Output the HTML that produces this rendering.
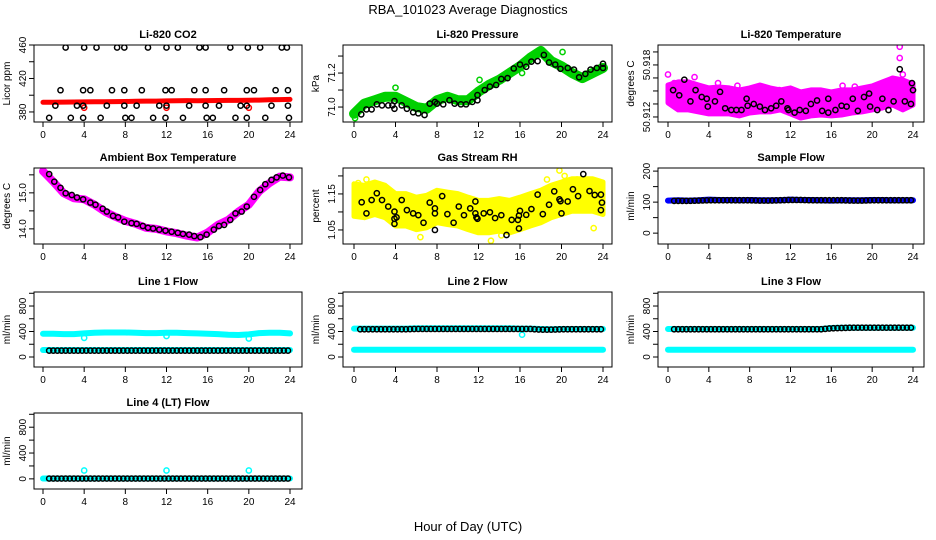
<!DOCTYPE html>
<html><head><meta charset="utf-8"><style>
html,body{margin:0;padding:0;background:#fff;}
svg{display:block;font-family:"Liberation Sans",Arial,sans-serif;}
</style></head><body>
<svg id="c" width="936" height="540" viewBox="0 0 936 540" xmlns="http://www.w3.org/2000/svg">
<text x="468" y="14" text-anchor="middle" font-size="13">RBA_101023  Average Diagnostics</text>
<text x="468" y="531" text-anchor="middle" font-size="13">Hour of Day (UTC)</text>
</svg>
<script>
// ---- shared categories ----
const hours = [0,1,2,3,4,5,6,7,8,9,10,11,12,13,14,15,16,17,18,19,20,21,22,23,24];
const xTicks = [0,4,8,12,16,20,24];
const blackHours = [0.6,1.0,1.4,1.8,2.2,2.6,3.0,3.4,3.8,4.2,4.6,5.0,5.4,5.8,6.2,6.6,7.0,7.4,7.8,8.2,8.6,9.0,9.4,9.8,10.2,10.6,11.0,11.4,11.8,12.2,12.6,13.0,13.4,13.8,14.2,14.6,15.0,15.4,15.8,16.2,16.6,17.0,17.4,17.8,18.2,18.6,19.0,19.4,19.8,20.2,20.6,21.0,21.4,21.8,22.2,22.6,23.0,23.4,23.8];

// CO2
const co2Red = [391.5,391.6,391.8,391.9,392.0,392.2,392.2,392.4,392.5,392.8,393.0,393.0,393.2,393.5,393.6,393.5,393.6,393.7,393.8,393.8,394.0,394.2,394.5,394.8,395.0];
const co2RedOutH = [4,12,20];
const co2RedOutV = [385,385,385];
const co2BlackH = [2.2,4.0,5.2,7.2,7.9,10.2,12.0,13.1,15.2,15.8,18.2,19.9,21.1,23.2,23.7, 1.7,3.9,4.6,6.7,7.9,9.6,11.9,12.5,14.7,15.8,17.6,19.8,20.5,22.6,23.8, 1.2,3.3,3.9,6.2,7.9,9.1,11.3,12.0,14.2,15.8,17.1,19.2,19.8,22.2,23.8, 0.6,2.7,3.9,5.6,8.0,8.6,10.7,11.9,13.6,15.9,16.5,18.7,19.8,21.6,23.9];
const co2BlackV = [457,457,457,457,457,457,457,457,457,457,457,457,457,457,457, 406,406,406,406,406,406,406,406,406,406,406,406,406,406,406, 387.5,387.5,387.5,387.5,387.5,387.5,387.5,387.5,387.5,387.5,387.5,387.5,387.5,387.5,387.5, 373,373,373,373,373,373,373,373,373,373,373,373,373,373,373];

// Pressure
const presGreen = [70.96,71.02,71.04,71.06,71.06,71.03,71.0,70.99,71.04,71.06,71.04,71.04,71.09,71.13,71.16,71.2,71.24,71.29,71.33,71.27,71.24,71.2,71.17,71.2,71.23];
const presGreenOutH = [0.1,4.0,12.1,16.2,20.1];
const presGreenOutV = [70.935,71.114,71.16,71.2,71.324];
const presBlackH = [0.7,1.2,1.7,2.2,2.7,3.3,3.7,3.9,3.9,4.6,5.1,5.7,6.2,6.8,7.3,7.8,8.0,8.6,9.2,9.7,10.3,10.8,11.4,11.9,11.9,12.6,13.1,13.7,14.2,14.8,15.4,16.0,16.6,17.1,17.7,18.3,18.8,19.4,19.9,20.6,21.2,21.7,22.3,22.8,23.4,24.0,24.0];
const presBlackV = [70.957,70.986,70.986,71.016,71.01,71.01,71.01,71.035,70.99,71.01,70.99,70.969,70.963,70.953,71.02,71.03,71.02,71.016,71.04,71.02,71.016,71.016,71.03,71.04,71.07,71.1,71.12,71.13,71.165,71.17,71.227,71.25,71.237,71.267,71.27,71.306,71.262,71.25,71.225,71.23,71.22,71.175,71.195,71.22,71.23,71.23,71.255];

// Li-820 Temperature
const tempUpper = [50.91569,50.91604,50.91604,50.91569,50.91535,50.91546,50.91535,50.91512,50.91535,50.91569,50.91535,50.91512,50.91535,50.91488,50.91512,50.91512,50.91488,50.91512,50.91512,50.91535,50.91558,50.91604,50.9165,50.91627,50.91581];
const tempLower = [50.91362,50.91281,50.91281,50.91258,50.91235,50.91235,50.91235,50.91212,50.91246,50.91258,50.91258,50.91281,50.91235,50.91188,50.91212,50.91223,50.91212,50.91223,50.91246,50.91258,50.91281,50.91304,50.91338,50.91281,50.91338];
const tempMagOutH = [0.0,0.6,2.6,4.9,6.8,7.7,10.4,10.9,17.1,18.3,22.7,22.7,23.0];
const tempMagOutV = [50.9169,50.9159,50.9166,50.9159,50.9156,50.9151,50.9151,50.9151,50.9156,50.9155,50.9201,50.9188,50.9169];
const tempBlackH = [0.5,1.1,1.6,2.2,2.7,3.3,3.8,3.9,4.6,5.1,5.6,6.2,6.7,7.2,7.7,7.8,8.4,9.0,9.5,10.1,10.6,11.1,11.7,11.8,12.4,12.9,13.5,14.0,14.6,15.1,15.7,15.7,16.4,17.0,17.5,18.1,18.6,19.2,19.7,19.8,20.5,21.0,21.6,22.1,22.7,23.2,23.8,23.9,24.0];
const tempBlackV = [50.9151,50.9145,50.9163,50.9138,50.9151,50.9143,50.9141,50.9132,50.9138,50.9149,50.913,50.9128,50.9128,50.9128,50.9141,50.9133,50.9135,50.9132,50.9128,50.913,50.9133,50.9138,50.913,50.9128,50.9125,50.9128,50.9127,50.9135,50.9139,50.9127,50.9125,50.9141,50.9128,50.9133,50.9132,50.9141,50.9127,50.9143,50.9147,50.9132,50.9128,50.9141,50.9128,50.9138,50.9175,50.9138,50.9135,50.9159,50.9151];

// Ambient box temperature
const ambMag = [15.6,15.31,14.99,14.85,14.82,14.67,14.48,14.34,14.22,14.14,14.03,14.0,13.93,13.88,13.81,13.76,13.9,14.11,14.25,14.48,14.67,15.04,15.27,15.45,15.43];
const ambBlackH = [0.6,1.1,1.7,2.2,2.8,3.3,3.9,4.6,5.1,5.8,6.2,6.8,7.3,7.9,8.6,9.1,9.7,10.2,10.7,11.3,11.9,12.5,13.1,13.6,14.2,14.7,15.3,15.9,16.6,17.1,17.6,18.2,18.7,19.3,19.8,20.5,21.1,21.6,22.2,22.7,23.3,23.9];
const ambBlackV = [15.52,15.31,15.14,14.99,14.94,14.87,14.82,14.73,14.67,14.56,14.48,14.36,14.32,14.2,14.16,14.14,14.08,14.03,14.01,13.98,13.95,13.92,13.89,13.86,13.84,13.8,13.77,13.84,13.98,14.08,14.11,14.25,14.43,14.48,14.62,14.89,15.08,15.24,15.36,15.43,15.48,15.43];

// Gas stream RH
const rhUpper = [1.178,1.174,1.183,1.174,1.151,1.151,1.141,1.146,1.16,1.155,1.151,1.141,1.132,1.132,1.137,1.132,1.141,1.151,1.16,1.174,1.183,1.192,1.192,1.192,1.183];
const rhLower = [1.088,1.084,1.093,1.084,1.061,1.061,1.051,1.056,1.07,1.065,1.061,1.051,1.042,1.042,1.047,1.042,1.051,1.061,1.07,1.084,1.093,1.102,1.102,1.102,1.093];
const rhYelOutH = [0.4,1.2,2.4,6.4,11.0,13.2,14.2,18.6,19.8,20.3,21.5,23.1];
const rhYelOutV = [1.18,1.19,1.17,1.03,1.06,1.02,1.035,1.19,1.215,1.2,1.19,1.055];
const rhBlackH = [0.74,1.2,1.7,2.2,2.7,3.3,3.9,3.9,3.9,4.1,4.6,5.1,5.7,6.2,6.7,7.3,7.8,7.8,7.8,8.5,9.0,9.6,10.1,10.6,11.2,11.7,11.7,11.8,11.9,12.5,13.1,13.6,14.2,14.7,15.2,15.8,15.9,15.9,16.0,16.6,17.1,17.7,18.2,18.8,19.3,19.8,19.9,20.0,20.6,21.1,21.6,22.1,22.7,23.2,23.8,23.9,23.8];
const rhBlackV = [1.127,1.096,1.133,1.152,1.133,1.115,1.101,1.081,1.067,1.085,1.133,1.105,1.096,1.091,1.07,1.126,1.11,1.096,1.05,1.144,1.094,1.07,1.115,1.091,1.11,1.129,1.096,1.085,1.081,1.096,1.099,1.083,1.091,1.036,1.078,1.078,1.09,1.054,1.103,1.092,1.108,1.148,1.094,1.12,1.157,1.135,1.13,1.096,1.129,1.163,1.144,1.205,1.158,1.147,1.148,1.126,1.105];

// Sample flow
const sampleBlue = [105,106,105,106,108,107,107,106,107,106,106,106,108,107,107,106,105,106,106,106,107,107,106,106,106];
const sampleBlack = [104,104,104,105,106,106,106,106,106,105,105,106,107,107,106,106,106,106,105,105,106,106,106,106,106];

// Line flows
const line1CyanHigh = [365,365,360,360,370,380,385,385,385,380,375,375,380,380,375,370,365,360,350,345,355,375,380,380,370];
const line1CyanLow = [110,110,110,110,110,110,110,110,110,110,110,110,110,110,110,110,110,110,110,110,110,110,110,110,110];
const line1Black = [100,100,100,100,100,100,100,100,100,100,100,100,100,100,100,100,100,100,100,100,100,100,100,100,100];
const line1OutH = [4,12,20];
const line1OutV = [300,330,290];

const line2CyanHigh = [445,445,445,445,445,445,450,450,450,450,450,450,450,450,450,450,445,445,440,435,440,440,440,440,440];
const line2CyanLow = [115,115,115,115,115,115,115,115,115,115,115,115,115,115,115,115,115,115,115,115,115,115,115,115,115];
const line2Black = [435,435,435,435,435,435,440,440,440,440,440,440,440,440,440,440,440,440,430,430,435,435,435,435,435];
const line2OutH = [16.2];
const line2OutV = [350];

const line3CyanHigh = [440,440,440,440,440,440,440,440,440,440,440,440,440,440,440,440,455,460,460,460,460,460,460,460,460];
const line3CyanLow = [115,115,115,115,115,115,115,115,115,115,115,115,115,115,115,115,115,115,115,115,115,115,115,115,115];
const line3Black = [435,435,435,435,435,435,435,435,435,435,435,435,435,435,435,435,450,455,460,460,460,460,460,460,460];

const line4Cyan = [5,5,5,5,5,5,5,5,5,5,5,5,5,5,5,5,5,5,5,5,5,5,5,5,5];
const line4Black = [5,5,5,5,5,5,5,5,5,5,5,5,5,5,5,5,5,5,5,5,5,5,5,5,5];
const line4OutH = [4,12,20];
const line4OutV = [130,130,130];

const flowTicks = [0,200,400,600,800,1000];
const flowLabels = [0,400,800];

// ---- drawing ----
const NS = 'http://www.w3.org/2000/svg';
const svg = document.getElementById('c');
function mk(tag, attrs, parent){
  const e = document.createElementNS(NS, tag);
  for (const k in attrs) e.setAttribute(k, attrs[k]);
  (parent||svg).appendChild(e);
  return e;
}
const cols = [{x0:34,x1:302,t0:43,t24:290},{x0:343,x1:612,t0:354,t24:603},{x0:658,x1:924,t0:668,t24:913}];
const rows = [{y0:45,y1:122},{y0:168,y1:244},{y0:292,y1:367},{y0:413,y1:489}];

function panel(name, title, ylab, col, row, dom, yTicks, yLabels){
  const c = cols[col], r = rows[row];
  const g = mk('g', {});
  
  
  const X = h => c.t0 + (c.t24 - c.t0) * h / 24;
  const Y = v => r.y1 - (v - dom[0]) / (dom[1] - dom[0]) * (r.y1 - r.y0);
  const plot = mk('g', {}, g);
  
  
  const t = mk('text', {x:(c.x0+c.x1)/2, y:r.y0-7, 'text-anchor':'middle', 'font-size':'11', 'font-weight':'bold'}, g);
  
  
  t.textContent = title;
  const yl = mk('text', {x:0, y:0, transform:`translate(${c.x0-24},${(r.y0+r.y1)/2}) rotate(-90)`, 'text-anchor':'middle', 'font-size':'10'}, g);
  
  
  yl.textContent = ylab;
  // x axis
  const xa = mk('g', {}, g);
  
  
  xTicks.forEach(h => {
    mk('line', {x1:X(h), x2:X(h), y1:r.y1, y2:r.y1+5, stroke:'#000', 'stroke-width':1}, xa);
    const tx = mk('text', {x:X(h), y:r.y1+16, 'text-anchor':'middle', 'font-size':'10'}, xa);
    
    
    tx.textContent = h;
  });
  const ya = mk('g', {}, g);
  
  
  yTicks.forEach(v => {
    mk('line', {x1:c.x0-5, x2:c.x0, y1:Y(v), y2:Y(v), stroke:'#000', 'stroke-width':1}, ya);
  });
  yLabels.forEach(v => {
    const tx = mk('text', {x:0, y:0, transform:`translate(${c.x0-8},${Y(v)}) rotate(-90)`, 'text-anchor':'middle', 'font-size':'10'}, ya);
    
    
    tx.textContent = String(v);
  });
  const box = mk('rect', {x:c.x0, y:r.y0, width:c.x1-c.x0, height:r.y1-r.y0, fill:'none', stroke:'#000', 'stroke-width':1}, g);
  
  
  const clip = 'clip-' + name;
  const cp = mk('clipPath', {id:clip}, g);
  mk('rect', {x:c.x0, y:r.y0, width:c.x1-c.x0, height:r.y1-r.y0}, cp);
  plot.setAttribute('clip-path', `url(#${clip})`);
  return {X, Y, plot};
}
function band(p, name, xs, vs, color, w){
  const d = xs.map((h,i)=>(i?'L':'M')+p.X(h).toFixed(1)+','+p.Y(vs[i]).toFixed(1)).join(' ');
  const e = mk('path', {d, fill:'none', stroke:color, 'stroke-width':w, 'stroke-linejoin':'round', 'stroke-linecap':'round'}, p.plot);
  
  
}
function area(p, name, xs, up, lo, color){
  let d = xs.map((h,i)=>(i?'L':'M')+p.X(h).toFixed(1)+','+p.Y(up[i]).toFixed(1)).join(' ');
  for (let i = xs.length-1; i >= 0; i--) d += ' L'+p.X(xs[i]).toFixed(1)+','+p.Y(lo[i]).toFixed(1);
  const e = mk('path', {d:d+' Z', fill:color, stroke:color, 'stroke-width':5, 'stroke-linejoin':'round'}, p.plot);
  
  
}
function pts(p, name, xs, vs, color){
  const g = mk('g', {}, p.plot);
  
  
  xs.forEach((h,i) => {
    const e = mk('circle', {cx:p.X(h), cy:p.Y(vs[i]), r:2.6, fill:'none', stroke:color, 'stroke-width':1.5}, g);
    
    
  });
}
function lookup(arr, h){ const i = Math.floor(h), f = h - i; return i >= 24 ? arr[24] : arr[i]*(1-f) + arr[i+1]*f; }
function blackSeries(p, name, arr){ pts(p, name, blackHours, blackHours.map(h => lookup(arr, h)), '#000'); }

let p;
p = panel('co2', 'Li-820 CO2', 'Licor ppm', 0, 0, [368,460], [380,400,420,440,460], [380,420,460]);
band(p, 'co2-red-band', hours, co2Red, '#f00', 5);
pts(p, 'co2-red-outliers', co2RedOutH, co2RedOutV, '#f00');
pts(p, 'co2-black-points', co2BlackH, co2BlackV, '#000');

p = panel('pressure', 'Li-820 Pressure', 'kPa', 1, 0, [70.912,71.365], [71.0,71.1,71.2,71.3], ['71.0','71.2']);
band(p, 'pressure-green-band', hours, presGreen, '#00d000', 10);
pts(p, 'pressure-green-outliers', presGreenOutH, presGreenOutV, '#00d000');
pts(p, 'pressure-black-points', presBlackH, presBlackV, '#000');

p = panel('li820-temp', 'Li-820 Temperature', 'degrees C', 2, 0, [50.91142,50.9203], [50.912,50.9135,50.915,50.9165,50.918,50.9195], ['50.912','50.918']);
area(p, 'temp-magenta-cloud', hours, tempUpper, tempLower, '#ff00ff');
pts(p, 'temp-magenta-outliers', tempMagOutH, tempMagOutV, '#ff00ff');
pts(p, 'temp-black-points', tempBlackH, tempBlackV, '#000');

p = panel('ambient-temp', 'Ambient Box Temperature', 'degrees C', 0, 1, [13.58,15.69], [14.0,14.5,15.0,15.5], ['14.0','15.0']);
band(p, 'ambient-magenta-band', hours, ambMag, '#ff00ff', 8);
pts(p, 'ambient-black-points', ambBlackH, ambBlackV, '#000');

p = panel('rh', 'Gas Stream RH', 'percent', 1, 1, [1.011,1.222], [1.05,1.10,1.15,1.20], ['1.05','1.15']);
area(p, 'rh-yellow-cloud', hours, rhUpper, rhLower, '#ffff00');
pts(p, 'rh-yellow-outliers', rhYelOutH, rhYelOutV, '#ffff00');
pts(p, 'rh-black-points', rhBlackH, rhBlackV, '#000');

p = panel('sample-flow', 'Sample Flow', 'ml/min', 2, 1, [-35,210], [0,50,100,150,200], [0,100,200]);
band(p, 'sample-blue-band', hours, sampleBlue, '#0000ff', 6);
blackSeries(p, 'sample-black-points', sampleBlack);

p = panel('line1', 'Line 1 Flow', 'ml/min', 0, 2, [-157,1020], flowTicks, flowLabels);
band(p, 'line1-cyan-high', hours, line1CyanHigh, '#00ffff', 6);
band(p, 'line1-cyan-low', hours, line1CyanLow, '#00ffff', 6);
pts(p, 'line1-cyan-outliers', line1OutH, line1OutV, '#00ffff');
blackSeries(p, 'line1-black-points', line1Black);

p = panel('line2', 'Line 2 Flow', 'ml/min', 1, 2, [-157,1020], flowTicks, flowLabels);
band(p, 'line2-cyan-high', hours, line2CyanHigh, '#00ffff', 6);
band(p, 'line2-cyan-low', hours, line2CyanLow, '#00ffff', 6);
pts(p, 'line2-cyan-outliers', line2OutH, line2OutV, '#00ffff');
blackSeries(p, 'line2-black-points', line2Black);

p = panel('line3', 'Line 3 Flow', 'ml/min', 2, 2, [-157,1020], flowTicks, flowLabels);
band(p, 'line3-cyan-high', hours, line3CyanHigh, '#00ffff', 6);
band(p, 'line3-cyan-low', hours, line3CyanLow, '#00ffff', 6);
blackSeries(p, 'line3-black-points', line3Black);

p = panel('line4', 'Line 4 (LT) Flow', 'ml/min', 0, 3, [-157,1020], flowTicks, flowLabels);
band(p, 'line4-cyan-band', hours, line4Cyan, '#00ffff', 6);
pts(p, 'line4-cyan-outliers', line4OutH, line4OutV, '#00ffff');
blackSeries(p, 'line4-black-points', line4Black);
</script>
</body></html>
